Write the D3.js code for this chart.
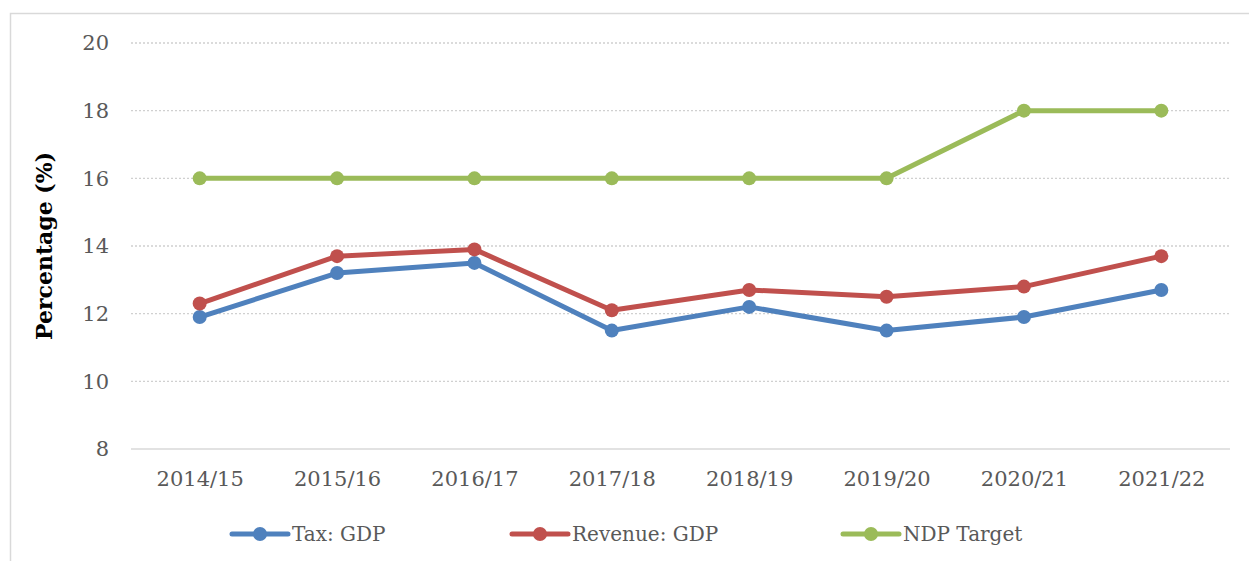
<!DOCTYPE html>
<html>
<head>
<meta charset="utf-8">
<script src="https://cdn.jsdelivr.net/npm/d3@7"></script>
<style>
  body { margin: 0; background: #fff; }
  svg text { font-family: "DejaVu Serif", serif; }
  .tick text { fill: #595959; font-size: 21px; }
  .gridLine { stroke: #d0d0d0; stroke-width: 1.3; stroke-dasharray: 2 2; }
  .baseLine { stroke: #d9d9d9; stroke-width: 1.5; }
  .legText { fill: #595959; font-size: 20px; }
</style>
</head>
<body>
<div class="chart"></div>
<script>
"use strict";
var years = ["2014/15","2015/16","2016/17","2017/18","2018/19","2019/20","2020/21","2021/22"];
var taxGdp = [11.9, 13.2, 13.5, 11.5, 12.2, 11.5, 11.9, 12.7];
var revenueGdp = [12.3, 13.7, 13.9, 12.1, 12.7, 12.5, 12.8, 13.7];
var ndpTarget = [16, 16, 16, 16, 16, 16, 18, 18];
var yTicks = [8, 10, 12, 14, 16, 18, 20];
var seriesNames = ["Tax: GDP", "Revenue: GDP", "NDP Target"];
var seriesColors = ["#4f81bd", "#c0504d", "#9bbb59"];

var width = 1249, height = 561;
var margin = { top: 43, right: 19, bottom: 112, left: 131 };
var plotW = width - margin.left - margin.right,
    plotH = height - margin.top - margin.bottom;

var series = [taxGdp, revenueGdp, ndpTarget].map(function(vals, i){
  return { name: seriesNames[i], color: seriesColors[i],
    values: vals.map(function(v, j){ return { year: years[j], value: v }; }) };
});

var svg = d3.select(".chart").append("svg")
  .attr("width", width).attr("height", height);

// outer frame
svg.append("rect")
  .attr("x", 10.5).attr("y", 13.5)
  .attr("width", width + 20).attr("height", height + 20)
  .style("fill", "none").style("stroke", "#d9d9d9").style("stroke-width", 1.5);

var g = svg.append("g")
  .attr("transform", "translate(" + margin.left + "," + margin.top + ")");

var x = d3.scalePoint().domain(years).range([0, plotW]).padding(0.5);
var y = d3.scaleLinear().domain([8, 20]).range([plotH, 0]);

// gridlines
g.selectAll(".gridLine")
  .data(yTicks.filter(function(t){ return t > 8; }))
  .enter().append("line")
  .attr("class", "gridLine")
  .attr("x1", 0).attr("x2", plotW)
  .attr("y1", function(d){ return y(d); })
  .attr("y2", function(d){ return y(d); });

g.append("line").attr("class", "baseLine")
  .attr("x1", 0).attr("x2", plotW)
  .attr("y1", y(8)).attr("y2", y(8));

// y axis
var yAxis = g.append("g")
  .call(d3.axisLeft(y).tickValues(yTicks).tickSize(0).tickPadding(22));
yAxis.select(".domain").remove();

// x axis
var xAxis = g.append("g")
  .attr("transform", "translate(0," + plotH + ")")
  .call(d3.axisBottom(x).tickSize(0).tickPadding(22));
xAxis.select(".domain").remove();

// y title
svg.append("text")
  .attr("transform", "translate(52," + (y(14) + margin.top) + ") rotate(-90)")
  .attr("text-anchor", "middle")
  .style("font-size", "22px").style("font-weight", "bold").style("fill", "#000")
  .text("Percentage (%)");

// lines
var line = d3.line()
  .x(function(d){ return x(d.year); })
  .y(function(d){ return y(d.value); });

var sGroup = g.selectAll(".series")
  .data(series).enter()
  .append("g").attr("class", "series");

sGroup.append("path")
  .attr("d", function(d){ return line(d.values); })
  .style("fill", "none")
  .style("stroke", function(d){ return d.color; })
  .style("stroke-width", 5)
  .style("stroke-linejoin", "round");

sGroup.selectAll("circle")
  .data(function(d){ return d.values.map(function(v){ return { v: v, color: d.color }; }); })
  .enter().append("circle")
  .attr("cx", function(d){ return x(d.v.year); })
  .attr("cy", function(d){ return y(d.v.value); })
  .attr("r", 7)
  .style("fill", function(d){ return d.color; });

// legend
var legX = [232, 512, 843];
var legend = svg.selectAll(".legItem")
  .data(series).enter()
  .append("g").attr("class", "legItem")
  .attr("transform", function(d, i){ return "translate(" + legX[i] + ",534)"; });

legend.append("line")
  .attr("x1", 0).attr("x2", 56).attr("y1", 0).attr("y2", 0)
  .style("stroke", function(d){ return d.color; })
  .style("stroke-width", 5).style("stroke-linecap", "round");
legend.append("circle")
  .attr("cx", 28).attr("cy", 0).attr("r", 7)
  .style("fill", function(d){ return d.color; });
legend.append("text")
  .attr("class", "legText")
  .attr("x", 60).attr("y", 0).attr("dy", "0.35em")
  .text(function(d){ return d.name; });
</script>
</body>
</html>
